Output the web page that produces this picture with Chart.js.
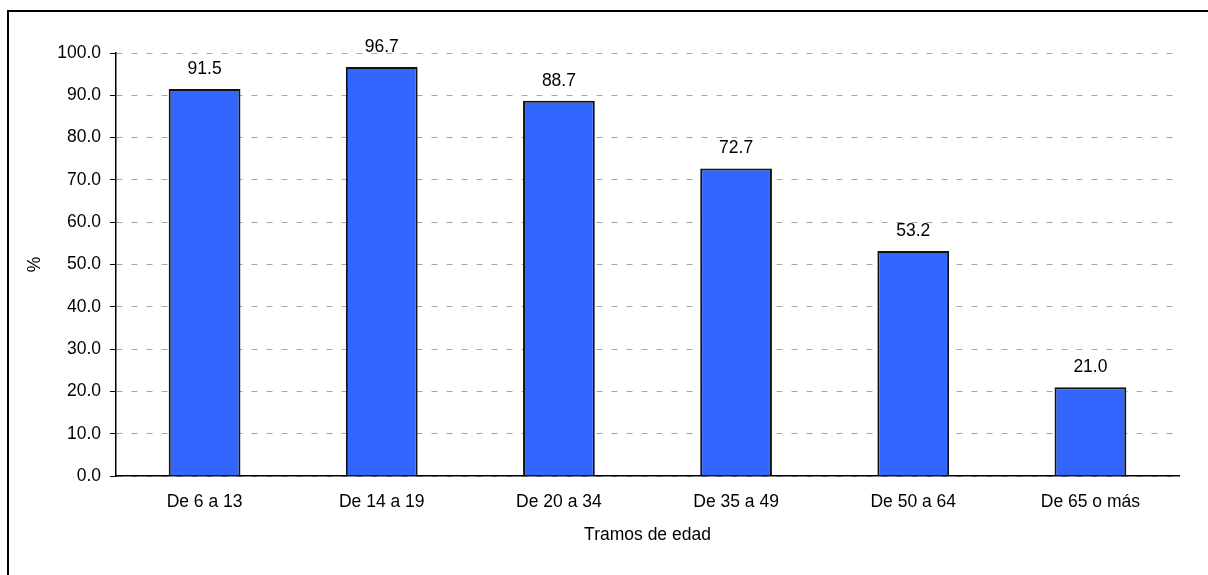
<!DOCTYPE html>
<html>
<head>
<meta charset="utf-8">
<script src="https://cdn.jsdelivr.net/npm/chart.js@4/dist/chart.umd.min.js"></script>
<style>
  html, body { margin: 0; padding: 0; background: #fff; }
  #wrap { position: relative; width: 1208px; height: 575px; overflow: hidden; }
  #frame { position: absolute; left: 7px; top: 10px; width: 1300px; height: 700px;
           border-left: 2px solid #000; border-top: 2px solid #000; pointer-events: none; }
  canvas { position: absolute; left: 0; top: 0; }
</style>
</head>
<body>
<div id="wrap">
  <canvas id="c" width="1208" height="575"></canvas>
  <div id="frame"></div>
</div>
<script>
const categories = ["De 6 a 13", "De 14 a 19", "De 20 a 34", "De 35 a 49", "De 50 a 64", "De 65 o más"];
const values = [91.5, 96.7, 88.7, 72.7, 53.2, 21.0];
const yTitle = "%";
const xTitle = "Tramos de edad";

const FONT = "'Liberation Sans', Arial, sans-serif";
const FSIZE = 17.5;

const labelPlugin = {
  id: 'barLabels',
  afterDatasetsDraw(chart) {
    const ctx = chart.ctx;
    const meta = chart.getDatasetMeta(0);
    ctx.save();
    ctx.font = FSIZE + "px " + FONT;
    ctx.fillStyle = "#000";
    ctx.textAlign = "center";
    ctx.textBaseline = "middle";
    meta.data.forEach((bar, i) => {
      ctx.fillText(values[i].toFixed(1), bar.x, bar.y - 20);
    });
    ctx.restore();
  }
};

new Chart(document.getElementById('c'), {
  type: 'bar',
  data: {
    labels: categories,
    datasets: [{
      data: values,
      backgroundColor: '#3366FF',
      borderColor: '#111',
      borderWidth: 2,
      categoryPercentage: 1.0,
      barPercentage: 0.405
    }]
  },
  options: {
    responsive: false,
    animation: false,
    devicePixelRatio: 1,
    layout: { padding: { left: 0, right: 29, top: 53, bottom: 0 } },
    plugins: { legend: { display: false }, tooltip: { enabled: false } },
    scales: {
      x: {
        grid: { display: false, drawTicks: false },
        border: { display: true, color: '#000', width: 1.5 },
        ticks: { color: '#000', font: { family: FONT, size: FSIZE }, padding: 16, maxRotation: 0, autoSkip: false },
        title: { display: true, text: xTitle, color: '#000', font: { family: FONT, size: FSIZE }, padding: { top: 0, bottom: 29 } },
        afterFit(scale) { scale.height = 99; }
      },
      y: {
        min: 0, max: 100,
        ticks: { stepSize: 10, color: '#000', font: { family: FONT, size: FSIZE }, padding: 9,
                 callback: v => Number(v).toFixed(1) },
        grid: { color: '#a6a6a6', lineWidth: 1, tickColor: '#000', tickLength: 6, tickBorderDash: [], tickWidth: 1 },
        border: { display: true, color: '#000', width: 1.5, dash: [6, 9] },
        title: { display: true, text: yTitle, color: '#000', font: { family: FONT, size: FSIZE }, padding: { top: 25, bottom: 0 } },
        afterFit(scale) { scale.width = 116; }
      }
    }
  },
  plugins: [labelPlugin]
});
</script>
</body>
</html>
